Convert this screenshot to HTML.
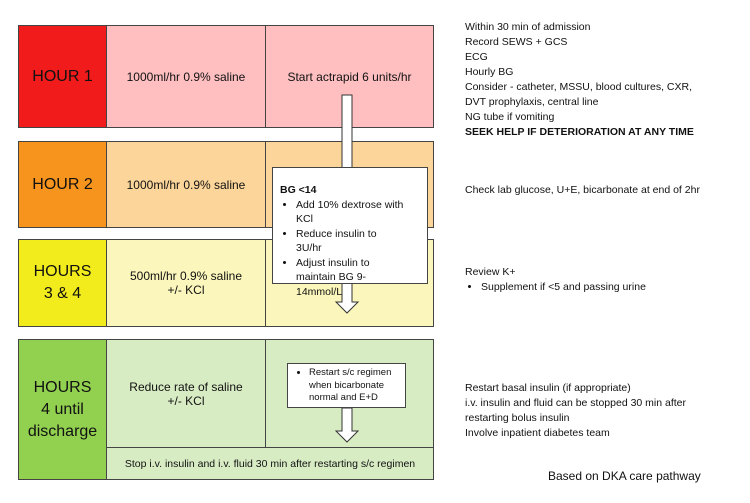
<!DOCTYPE html>
<html><head><style>
body{margin:0;width:750px;height:503px;background:#fff;position:relative;font-family:"Liberation Sans",sans-serif;overflow:hidden}
.b{position:absolute;box-sizing:border-box;border:1px solid #444;display:flex;align-items:center;justify-content:center;text-align:center;font-size:12px;color:#111}
.h{font-size:16px;line-height:22px}
.t{position:absolute;font-size:10.5px;line-height:15px;color:#111}
ul{margin:0;padding-left:16px}
</style></head><body>
<div class="b h" style="left:18px;top:25px;width:89px;height:103px;background:#f21b1b">HOUR 1</div>
<div class="b" style="left:106px;top:25px;width:160px;height:103px;background:#ffbfc0">1000ml/hr 0.9% saline</div>
<div class="b" style="left:265px;top:25px;width:169px;height:103px;background:#ffbfc0">Start actrapid 6 units/hr</div>
<div class="b h" style="left:18px;top:141px;width:89px;height:87px;background:#f7941d">HOUR 2</div>
<div class="b" style="left:106px;top:141px;width:160px;height:87px;background:#fcd59a">1000ml/hr 0.9% saline</div>
<div class="b" style="left:265px;top:141px;width:169px;height:87px;background:#fcd59a"></div>
<div class="b h" style="left:18px;top:239px;width:89px;height:88px;background:#f2ec1c">HOURS<br>3 &amp; 4</div>
<div class="b" style="left:106px;top:239px;width:160px;height:88px;background:#fbf6bb">500ml/hr 0.9% saline<br>+/- KCl</div>
<div class="b" style="left:265px;top:239px;width:169px;height:88px;background:#fbf6bb"></div>
<div class="b h" style="left:18px;top:339px;width:89px;height:141px;background:#92d050">HOURS<br>4 until<br>discharge</div>
<div class="b" style="left:106px;top:339px;width:160px;height:109px;background:#d8ecc4">Reduce rate of saline<br>+/- KCl</div>
<div class="b" style="left:265px;top:339px;width:169px;height:109px;background:#d8ecc4"></div>
<div class="b" style="left:106px;top:447px;width:328px;height:33px;background:#d8ecc4;font-size:10.5px">Stop i.v. insulin and i.v. fluid 30 min after restarting s/c regimen</div>
<svg style="position:absolute;left:0;top:0" width="750" height="503">
<path d="M342,95 H352 V302 H358 L347,313 L336,302 H342 Z" fill="#fff" stroke="#333" stroke-width="1"/>
<path d="M342,408 H352 V431 H358 L347,442 L336,431 H342 Z" fill="#fff" stroke="#333" stroke-width="1"/>
</svg>
<div class="b" style="left:272px;top:167px;width:156px;height:117px;background:#fff;display:block;text-align:left;padding:15px 22px 0 7px;font-size:10.5px;line-height:14.5px">
<b>BG &lt;14</b><ul><li>Add 10% dextrose with KCl</li><li>Reduce insulin to 3U/hr</li><li>Adjust insulin to maintain BG 9-14mmol/L</li></ul></div>
<div class="b" style="left:287px;top:363px;width:119px;height:45px;background:#fff;display:block;text-align:left;padding:3px 10px 0 4px;font-size:9.5px;line-height:12.5px">
<ul style="padding-left:17px"><li>Restart s/c regimen when bicarbonate normal and E+D</li></ul></div>
<div class="t" style="left:465px;top:20px">Within 30 min of admission<br>Record SEWS + GCS<br>ECG<br>Hourly BG<br>Consider - catheter, MSSU, blood cultures, CXR,<br>DVT prophylaxis, central line<br>NG tube if vomiting<br><b>SEEK HELP IF DETERIORATION AT ANY TIME</b></div>
<div class="t" style="left:465px;top:183px">Check lab glucose, U+E, bicarbonate at end of 2hr</div>
<div class="t" style="left:465px;top:265px">Review K+<ul><li>Supplement if &lt;5 and passing urine</li></ul></div>
<div class="t" style="left:465px;top:381px">Restart basal insulin (if appropriate)<br>i.v. insulin and fluid can be stopped 30 min after<br>restarting bolus insulin<br>Involve inpatient diabetes team</div>
<div class="t" style="left:548px;top:469px;font-size:12px">Based on DKA care pathway</div>
</body></html>
